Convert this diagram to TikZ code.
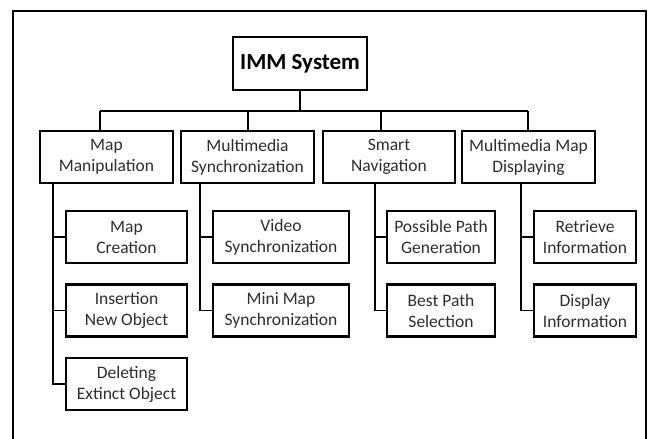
\documentclass[tikz,border=0pt]{standalone}
\usepackage{fontspec}
\setmainfont{Carlito}
\begin{document}
\begin{tikzpicture}[x=1pt,y=-1pt,
  box/.style={draw, line width=2.2pt, align=center, inner sep=0pt,
    font=\fontsize{17.5}{21}\selectfont, text=black!82},
  lvl1/.style={box, minimum height=52pt},
  lvl2/.style={box, minimum height=52pt},
  link/.style={line width=1.6pt}]
\useasboundingbox (0,0) rectangle (649,439);
\draw[line width=2pt] (13,439) -- (13,11) -- (646,11) -- (646,439);
% root
\node[box, minimum width=134pt, minimum height=53pt, text=black,
  font=\fontsize{23}{27}\selectfont\bfseries] (imm) at (300,63.5) {IMM System};
% level 1
\node[lvl1, minimum width=133pt] (mm)  at (106.5,157) {Map\\Manipulation};
\node[lvl1, minimum width=133pt] (ms)  at (247.5,157) {Multimedia\\Synchronization};
\node[lvl1, minimum width=132pt] (sn)  at (389,157)   {Smart\\Navigation};
\node[lvl1, minimum width=133pt] (mmd) at (528.5,157) {Multimedia Map\\Displaying};
% level 2
\node[lvl2, minimum width=121pt] (mc)  at (126.5,237)   {Map\\Creation};
\node[lvl2, minimum width=121pt] (ino) at (126.5,310.5) {Insertion\\New Object};
\node[lvl2, minimum width=121pt] (deo) at (126.5,384)   {Deleting\\Extinct Object};
\node[lvl2, minimum width=136pt] (vs)  at (281,237)     {Video\\Synchronization};
\node[lvl2, minimum width=136pt] (mms) at (281,310.5)   {Mini Map\\Synchronization};
\node[lvl2, minimum width=108pt] (ppg) at (441,237)     {Possible Path\\Generation};
\node[lvl2, minimum width=108pt] (bps) at (441,310.5)   {Best Path\\Selection};
\node[lvl2, minimum width=102pt] (ri)  at (585,237)     {Retrieve\\Information};
\node[lvl2, minimum width=102pt] (di)  at (585,310.5)   {Display\\Information};
% bus
\coordinate (b1) at (100,111);
\coordinate (b2) at (248,111);
\coordinate (b3) at (381,111);
\coordinate (b4) at (528,111);
\draw[link] (imm.south) -- (imm.south |- b1);
\draw[link] (b1) -- (b4);
\draw[link] (b1) -- (b1 |- mm.north);
\draw[link] (b2) -- (b2 |- ms.north);
\draw[link] (b3) -- (b3 |- sn.north);
\draw[link] (b4) -- (b4 |- mmd.north);
% trunks
\coordinate (t1) at (53,183);
\coordinate (t2) at (200,183);
\coordinate (t3) at (375,183);
\coordinate (t4) at (521,183);
\draw[link] (t1 |- mm.south) |- (deo.west);
\draw[link] (t1 |- mc.west) -- (mc.west);
\draw[link] (t1 |- ino.west) -- (ino.west);
\draw[link] (t2 |- ms.south) |- (mms.west);
\draw[link] (t2 |- vs.west) -- (vs.west);
\draw[link] (t3 |- sn.south) |- (bps.west);
\draw[link] (t3 |- ppg.west) -- (ppg.west);
\draw[link] (t4 |- mmd.south) |- (di.west);
\draw[link] (t4 |- ri.west) -- (ri.west);
\end{tikzpicture}
\end{document}
